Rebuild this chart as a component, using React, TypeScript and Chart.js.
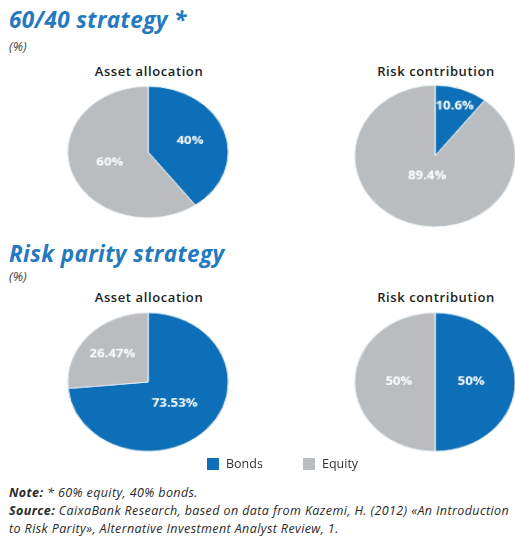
import React, { useEffect, useRef } from "react";
import { Chart, registerables } from "chart.js";

Chart.register(...registerables);

const sliceLabels = ["Bonds", "Equity"];
const alloc6040 = [40, 60];
const risk6040 = [10.6, 89.4];
const allocRP = [73.53, 26.47];
const riskRP = [50, 50];

const BLUE = "#0d6fb8";
const GRAY = "#b9bdc0";
const TITLE_BLUE = "#2479bf";
const FONT = "'Open Sans', 'Noto Sans', sans-serif";

const labelPlugin = {
  id: "sliceLabels",
  afterDatasetsDraw(chart: any) {
    const ctx = chart.ctx;
    const meta = chart.getDatasetMeta(0);
    const ds = chart.data.datasets[0];
    const factors: number[] = chart.options.plugins.sliceLabels.factors;
    ctx.save();
    ctx.font = `bold 12px ${FONT}`;
    ctx.fillStyle = "#ffffff";
    ctx.textAlign = "center";
    ctx.textBaseline = "middle";
    meta.data.forEach((arc: any, i: number) => {
      const { x, y, startAngle, endAngle, outerRadius } = arc.getProps(
        ["x", "y", "startAngle", "endAngle", "outerRadius"],
        true
      );
      const mid = (startAngle + endAngle) / 2;
      const r = outerRadius * factors[i];
      ctx.fillText(ds.data[i] + "%", x + Math.cos(mid) * r, y + Math.sin(mid) * r);
    });
    ctx.restore();
  },
};

function Pie({
  data, cx, cy, factors, sy,
}: { data: number[]; cx: number; cy: number; factors: number[]; sy: number }) {
  const ref = useRef<HTMLCanvasElement>(null);
  useEffect(() => {
    const chart = new Chart(ref.current!, {
      type: "pie",
      data: {
        labels: sliceLabels,
        datasets: [
          {
            data,
            backgroundColor: [BLUE, GRAY],
            borderColor: "#e8eef2",
            borderWidth: 1,
          },
        ],
      },
      options: {
        responsive: false,
        animation: false,
        radius: 73,
        layout: { padding: 0 },
        plugins: {
          legend: { display: false },
          tooltip: { enabled: false },
          sliceLabels: { factors },
        } as any,
      },
      plugins: [labelPlugin],
    });
    return () => chart.destroy();
  }, []);
  const size = 160;
  return (
    <div
      style={{
        position: "absolute",
        left: cx - size / 2,
        top: cy - size / 2,
        width: size,
        height: size,
        transform: `scale(1.1, ${sy})`,
        transformOrigin: "50% 50%",
      }}
    >
      <canvas ref={ref} width={size} height={size} />
    </div>
  );
}

const txt = (s: React.CSSProperties): React.CSSProperties => ({
  position: "absolute",
  margin: 0,
  whiteSpace: "nowrap",
  fontFamily: FONT,
  ...s,
});

const noteStyle: React.CSSProperties = {
  fontSize: 12.5,
  fontStyle: "italic",
  color: "#2a2a2a",
  letterSpacing: 0.4,
};

const titleStyle: React.CSSProperties = {
  fontSize: 22.5,
  fontWeight: 700,
  fontStyle: "italic",
  color: TITLE_BLUE,
  letterSpacing: 0.4,
};

const subStyle: React.CSSProperties = {
  fontSize: 13,
  fontWeight: 600,
  color: "#222",
  letterSpacing: 0.6,
  transform: "translateX(-50%)",
};

export default function App() {
  return (
    <div style={{ position: "absolute", left: 0, top: 0, width: 515, height: 538, background: "#fff", overflow: "hidden" }}>
      <div style={txt({ left: 9, top: 4, ...titleStyle })}>60/40 strategy *</div>
      <div style={txt({ left: 9, top: 37, fontSize: 13, fontStyle: "italic", color: "#444" })}>(%)</div>
      <div style={txt({ left: 149, top: 62, ...subStyle })}>Asset allocation</div>
      <div style={txt({ left: 436, top: 62, ...subStyle })}>Risk contribution</div>
      <Pie data={alloc6040} cx={148} cy={152} factors={[0.55, 0.5]} sy={0.9} />
      <Pie data={risk6040} cx={435} cy={156} factors={[0.75, 0.3]} sy={0.97} />

      <div style={txt({ left: 9, top: 238, ...titleStyle })}>Risk parity strategy</div>
      <div style={txt({ left: 9, top: 267, fontSize: 13, fontStyle: "italic", color: "#444" })}>(%)</div>
      <div style={txt({ left: 149, top: 288, ...subStyle })}>Asset allocation</div>
      <div style={txt({ left: 436, top: 288, ...subStyle })}>Risk contribution</div>
      <Pie data={allocRP} cx={148} cy={382} factors={[0.45, 0.6]} sy={0.95} />
      <Pie data={riskRP} cx={435} cy={382} factors={[0.45, 0.45]} sy={0.95} />

      <div style={{ position: "absolute", left: 207, top: 458, width: 12, height: 12, background: BLUE }} />
      <div style={txt({ left: 226, top: 455, fontSize: 12.5, color: "#333" })}>{sliceLabels[0]}</div>
      <div style={{ position: "absolute", left: 303, top: 458, width: 12, height: 12, background: GRAY }} />
      <div style={txt({ left: 322, top: 455, fontSize: 12.5, color: "#333" })}>{sliceLabels[1]}</div>

      <div style={txt({ left: 9, top: 484, ...noteStyle })}>
        <b>Note:</b> * 60% equity, 40% bonds.
      </div>
      <div style={txt({ left: 9, top: 502, ...noteStyle })}>
        <b>Source:</b> CaixaBank Research, based on data from Kazemi, H. (2012) «An Introduction
      </div>
      <div style={txt({ left: 9, top: 520, ...noteStyle })}>
        to Risk Parity», Alternative Investment Analyst Review, 1.
      </div>
    </div>
  );
}
